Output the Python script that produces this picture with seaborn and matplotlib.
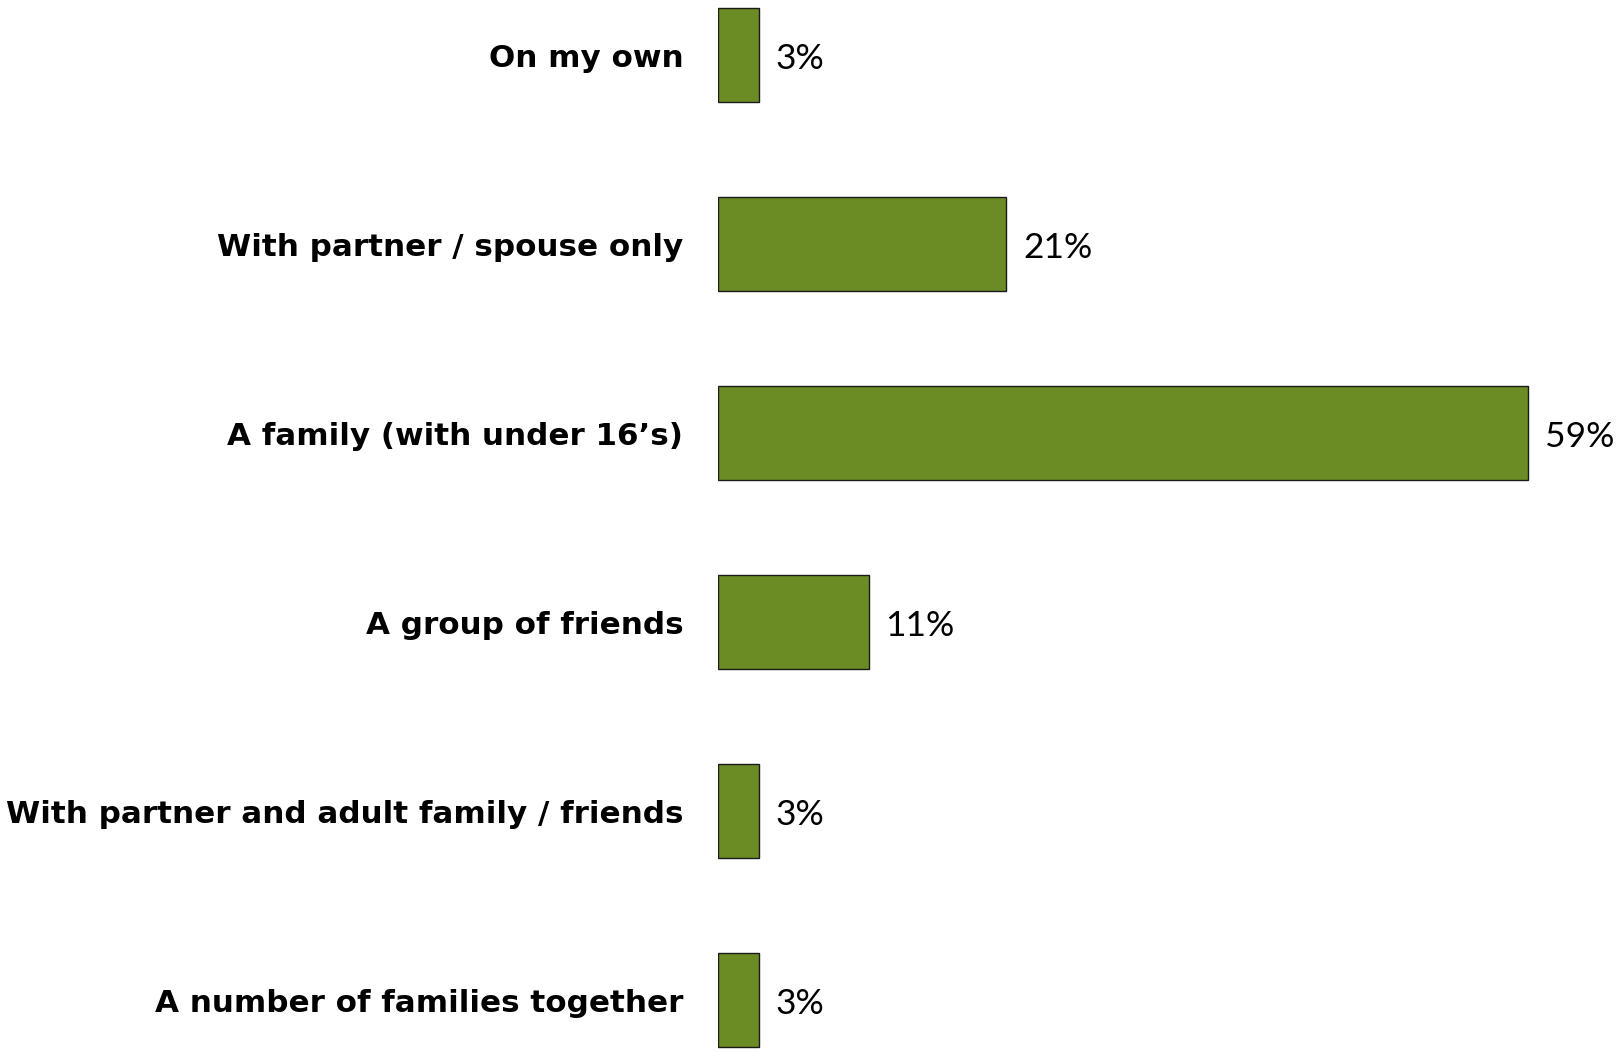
import matplotlib
matplotlib.use("Agg")
import matplotlib.pyplot as plt
import seaborn as sns
import pandas as pd

categories = [
    "On my own",
    "With partner / spouse only",
    "A family (with under 16\u2019s)",
    "A group of friends",
    "With partner and adult family / friends",
    "A number of families together",
]
values = [3, 21, 59, 11, 3, 3]

df = pd.DataFrame({"category": categories, "value": values})

sns.set_theme(style="white")
fig = plt.figure(figsize=(16.23, 10.52), dpi=100)
ax = fig.add_axes([0.4424, 0.0, 1 - 0.4424, 1.0])

sns.barplot(data=df, x="value", y="category", orient="h", color="#6B8C25",
            saturation=1, width=0.5, edgecolor="#1a1a1a", linewidth=1.0, ax=ax)

ax.set_xlim(0, 65.9)
ax.set_ylim(5.275, -0.291)

for i, v in enumerate(values):
    ax.text(v + 1.2, i + 0.02, f"{v}%", va="center", ha="left",
            fontsize=25.5, family="Lato", color="black")

ax.set_xlabel("")
ax.set_ylabel("")
ax.set_xticks([])
ax.tick_params(axis="y", length=0, pad=25)
for lbl in ax.get_yticklabels():
    lbl.set_fontsize(22.3)
    lbl.set_fontweight("bold")
    lbl.set_family("DejaVu Sans")
    lbl.set_color("black")
for s in ax.spines.values():
    s.set_visible(False)

fig.savefig("out.png", dpi=100)
